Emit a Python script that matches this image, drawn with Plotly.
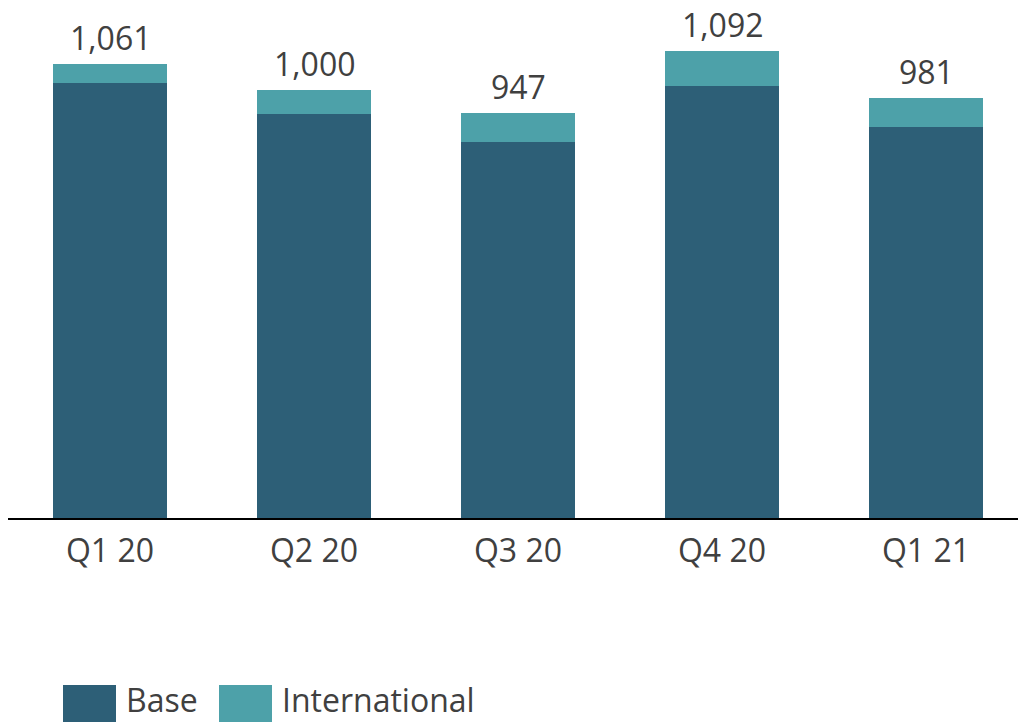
import plotly.graph_objects as go

quarters = ["Q1 20", "Q2 20", "Q3 20", "Q4 20", "Q1 21"]
base = [1017, 945, 878, 1010, 914]
international = [44, 55, 69, 82, 67]
totals = [1061, 1000, 947, 1092, 981]

BASE_COLOR = "#2D5F77"
INTL_COLOR = "#4DA1A9"
TEXT_COLOR = "#404040"
FONT = "Open Sans"
FS = 32

fig = go.Figure()
fig.add_trace(go.Bar(x=quarters, y=base, name="Base", marker=dict(color=BASE_COLOR, line=dict(width=0))))
fig.add_trace(go.Bar(x=quarters, y=international, name="International", marker=dict(color=INTL_COLOR, line=dict(width=0))))

for q, t in zip(quarters, totals):
    fig.add_annotation(x=q, y=t, text=f"{t:,}", showarrow=False, yanchor="bottom", yshift=3,
                       font=dict(family=FONT, size=FS, color=TEXT_COLOR))

# legend drawn manually to match large swatches
legend_items = [("Base", BASE_COLOR, 63, 124), ("International", INTL_COLOR, 219, 280)]
for label, color, x0, tx in legend_items:
    fig.add_shape(type="rect", xref="paper", yref="paper",
                  x0=(x0 - 8) / 1010, x1=(x0 + 53 - 8) / 1010,
                  y0=(518 - 722) / 518, y1=(518 - 685) / 518,
                  fillcolor=color, line=dict(width=0))
    fig.add_annotation(xref="paper", yref="paper", x=(tx - 8) / 1010, y=(518 - 699) / 518,
                       xanchor="left", yanchor="middle", text=label, showarrow=False,
                       font=dict(family=FONT, size=FS, color=TEXT_COLOR))

fig.update_layout(
    width=1018, height=722,
    margin=dict(l=8, r=0, t=0, b=204),
    barmode="stack", bargap=0.446,
    plot_bgcolor="white", paper_bgcolor="white",
    showlegend=False,
    font=dict(family=FONT, size=FS, color=TEXT_COLOR),
)
fig.update_xaxes(range=[-0.5, 4.451], showline=True, linecolor="black", linewidth=2,
                 ticks="outside", ticklen=4, tickcolor="rgba(0,0,0,0)",
                 tickfont=dict(family=FONT, size=FS, color=TEXT_COLOR), showgrid=False)
fig.update_yaxes(range=[0, 1210.6], visible=False, showgrid=False)

fig.write_html("out.html")
